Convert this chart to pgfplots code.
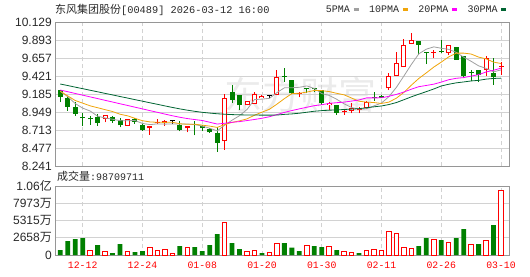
\documentclass[border=0pt]{standalone}
\usepackage{fontspec}
\setmainfont{Liberation Sans}
\newfontfamily\cjk{Noto Sans CJK SC}
\newfontfamily\mono{Liberation Mono}
\usepackage{pgfplots}
\usepackage{pgfplotstable}
\pgfplotsset{compat=1.18}
\definecolor{cred}{RGB}{255,0,0}
\definecolor{cgreen}{RGB}{0,128,0}
\definecolor{cma5}{RGB}{160,160,160}
\definecolor{cma10}{RGB}{240,165,10}
\definecolor{cma20}{RGB}{255,0,255}
\definecolor{cma30}{RGB}{0,100,50}
\definecolor{gridc}{RGB}{210,210,210}
\definecolor{framec}{RGB}{150,150,150}
\definecolor{txt}{RGB}{40,40,40}

% candles: index open high low close
\pgfplotstableread{
i o h l c
6 8.862 8.905 8.814 8.905
9 8.770 8.853 8.770 8.853
12 8.735 8.761 8.652 8.761
13 8.801 8.853 8.792 8.822
14 8.809 8.844 8.770 8.836
17 8.735 8.761 8.682 8.761
22 8.564 9.185 8.455 9.133
25 9.036 9.089 9.036 9.089
26 9.060 9.211 9.060 9.190
27 9.129 9.176 9.129 9.163
29 9.172 9.500 9.172 9.412
32 9.180 9.207 9.142 9.190
36 9.041 9.080 8.975 9.071
38 8.945 8.984 8.910 8.955
39 8.960 9.063 8.932 8.997
40 8.970 9.010 8.930 8.978
41 8.997 9.090 8.990 9.084
44 9.259 9.456 9.237 9.421
45 9.427 9.739 9.427 9.587
46 9.539 9.906 9.539 9.827
47 9.840 9.984 9.840 9.893
50 9.729 9.765 9.657 9.735
52 9.722 9.823 9.696 9.823
57 9.499 9.689 9.421 9.657
59 9.539 9.611 9.434 9.548
}\redtab
\pgfplotstableread{
i o h l c
0 9.237 9.240 9.080 9.150
1 9.133 9.141 8.967 9.019
2 9.015 9.080 8.901 8.923
3 8.879 8.932 8.770 8.866
4 8.862 8.897 8.783 8.853
5 8.879 8.923 8.770 8.809
7 8.884 8.901 8.809 8.836
8 8.840 8.871 8.748 8.774
10 8.853 8.871 8.792 8.818
11 8.783 8.792 8.704 8.713
16 8.783 8.827 8.696 8.713
18 8.792 8.827 8.643 8.783
19 8.761 8.783 8.696 8.739
20 8.726 8.739 8.674 8.682
21 8.674 8.748 8.425 8.543
23 9.211 9.299 9.067 9.111
24 9.176 9.176 8.980 9.036
30 9.421 9.522 9.346 9.404
31 9.369 9.369 9.185 9.194
33 9.265 9.268 9.194 9.255
34 9.255 9.260 9.207 9.245
35 9.237 9.237 9.041 9.070
37 9.041 9.041 8.910 8.940
42 9.145 9.215 9.097 9.135
43 9.163 9.170 9.130 9.137
48 9.883 9.883 9.696 9.831
49 9.735 9.735 9.578 9.729
51 9.748 9.893 9.722 9.735
53 9.801 9.801 9.631 9.631
54 9.683 9.683 9.394 9.417
55 9.473 9.499 9.349 9.464
56 9.499 9.499 9.342 9.434
58 9.460 9.663 9.309 9.404
}\greentab
\pgfplotstableread{
i o h l c
15 8.827 8.844 8.792 8.827
28 9.163 9.163 9.129 9.163
}\dojitab

% moving averages
\pgfplotstableread{
i m5 m10 m20 m30
0 9.220 9.220 9.237 9.316
1 9.150 9.160 9.215 9.296
2 9.060 9.100 9.192 9.275
3 9.000 9.065 9.170 9.255
4 8.962 9.030 9.147 9.234
5 8.894 9.005 9.125 9.214
6 8.871 8.980 9.102 9.193
7 8.854 8.955 9.080 9.173
8 8.835 8.920 9.057 9.152
9 8.835 8.899 9.035 9.132
10 8.837 8.866 9.012 9.111
11 8.799 8.835 8.990 9.091
12 8.784 8.819 8.967 9.070
13 8.793 8.814 8.945 9.050
14 8.790 8.813 8.922 9.029
15 8.792 8.815 8.900 9.009
16 8.792 8.795 8.880 8.990
17 8.792 8.788 8.863 8.973
18 8.784 8.789 8.850 8.958
19 8.765 8.777 8.838 8.945
20 8.736 8.764 8.815 8.935
21 8.702 8.747 8.791 8.926
22 8.776 8.784 8.801 8.920
23 8.842 8.813 8.814 8.915
24 8.901 8.833 8.823 8.912
25 8.982 8.859 8.837 8.910
26 9.112 8.907 8.851 8.909
27 9.118 8.947 8.867 8.908
28 9.128 8.985 8.887 8.908
29 9.203 9.052 8.915 8.909
30 9.266 9.124 8.944 8.918
31 9.267 9.190 8.968 8.924
32 9.273 9.195 8.990 8.933
33 9.291 9.210 9.011 8.946
34 9.258 9.231 9.032 8.959
35 9.191 9.229 9.044 8.967
36 9.166 9.217 9.062 8.973
37 9.116 9.194 9.071 8.976
38 9.056 9.174 9.079 8.982
39 9.007 9.132 9.092 8.987
40 8.988 9.090 9.107 8.993
41 8.991 9.079 9.134 9.005
42 9.030 9.073 9.134 9.017
43 9.066 9.061 9.135 9.028
44 9.151 9.079 9.155 9.047
45 9.273 9.131 9.180 9.073
46 9.421 9.206 9.211 9.110
47 9.573 9.301 9.248 9.148
48 9.712 9.389 9.281 9.183
49 9.773 9.462 9.297 9.216
50 9.803 9.538 9.314 9.251
51 9.785 9.603 9.341 9.290
52 9.771 9.672 9.372 9.313
53 9.731 9.721 9.391 9.331
54 9.668 9.721 9.400 9.343
55 9.614 9.709 9.420 9.356
56 9.554 9.669 9.438 9.364
57 9.521 9.646 9.474 9.380
58 9.475 9.603 9.496 9.389
59 9.501 9.585 9.524 9.393
}\matab

% volume in 10^4 shares
\pgfplotstableread{
i v
4 770
6 565
9 565
12 1181
13 770
14 924
15 308
17 1233
22 5033
25 565
26 719
28 462
29 1798
33 1489
36 1335
38 565
39 411
41 719
42 873
43 770
44 3698
45 3338
46 1181
47 1079
50 2414
52 2003
55 1644
57 2311
59 9871
}\redvol
\pgfplotstableread{
i v
0 770
1 2157
2 2465
3 2619
5 1541
7 308
8 1695
10 462
11 616
16 1387
18 1233
19 616
20 1541
21 3236
23 1849
24 924
27 308
30 1849
31 1130
32 616
34 1387
35 1233
37 770
40 308
48 1387
49 2619
51 2311
53 2619
54 4006
56 1695
58 4622
}\greenvol

\pgfplotsset{
  kbase/.style={
    scale only axis, width=453.5pt,
    xmin=-0.64, xmax=60.07,
    xtick={3,11,19,27,35,43,51,59},
    xmajorgrids, ymajorgrids,
    x grid style={gridc, line width=0.8pt, dash pattern=on 4pt off 3pt},
    y grid style={gridc, line width=0.8pt},
    major tick length=0pt,
    axis line style={framec, line width=0.9pt},
    yticklabel style={anchor=east, inner sep=0pt, xshift=-3.5pt, text=txt, font=\fontsize{12}{12}\selectfont},
  },
  wick/.style={draw=none, forget plot, error bars/.cd, y dir=plus, y explicit, error mark=none,
    error bar style={draw=#1, line width=1pt}},
  body/.style={draw=none, forget plot, error bars/.cd, y dir=plus, y explicit, error mark=none,
    error bar style={draw=#1, line width=5pt}},
}

\begin{document}
\begin{tikzpicture}
\useasboundingbox (0pt,0pt) rectangle (530pt,-276pt);
\node[text=black!8, font=\cjk\fontsize{38}{38}\selectfont, inner sep=0pt] at (300pt,-95pt) {东方财富};

\begin{axis}[kbase,
  at={(55.5pt,-22pt)}, anchor=north west, height=144pt,
  ymin=8.241, ymax=10.129,
  ytick={8.241,8.477,8.713,8.949,9.185,9.421,9.657,9.893,10.129},
  yticklabels={8.241,8.477,8.713,8.949,9.185,9.421,9.657,9.893,10.129},
  xticklabels={,,,,,,,},
  legend columns=4,
  legend plot pos=right,
  legend image code/.code={\draw[line width=2.2pt] (0pt,0pt) -- (5pt,0pt);},
  legend style={at={(axis description cs:0.596,1.087)}, anchor=west, draw=none, fill=none,
    inner sep=0pt, text=txt, font=\mono\fontsize{10}{10}\selectfont, nodes={inner sep=0pt},
    /tikz/every odd column/.append style={column sep=2.5pt},
    /tikz/every even column/.append style={column sep=9.5pt}},
]
% wicks
\addplot[wick=cred] table[x=i, y=l, y error plus expr=\thisrow{h}-\thisrow{l}] \redtab;
\addplot[wick=cgreen] table[x=i, y=l, y error plus expr=\thisrow{h}-\thisrow{l}] \greentab;
\addplot[wick=black] table[x=i, y=l, y error plus expr=\thisrow{h}-\thisrow{l}] \dojitab;
% bodies
\addplot[body=cgreen] table[x=i, y expr={min(\thisrow{o},\thisrow{c})}, y error plus expr={max(abs(\thisrow{o}-\thisrow{c}),0.013)}] \greentab;
\addplot[body=black] table[x=i, y expr={min(\thisrow{o},\thisrow{c})}, y error plus expr={max(abs(\thisrow{o}-\thisrow{c}),0.013)}] \dojitab;
\addplot[body=cred] table[x=i, y expr={min(\thisrow{o},\thisrow{c})}, y error plus expr={max(abs(\thisrow{o}-\thisrow{c}),0.013)}] \redtab;
\addplot[draw=none, forget plot, error bars/.cd, y dir=plus, y explicit, error mark=none,
    error bar style={draw=white, line width=3pt}]
  table[x=i, y expr={\thisrow{o}+0.0131}, y error plus expr={max(\thisrow{c}-\thisrow{o}-0.0262,0)}] \redtab;
% moving averages
\addplot[cma5, line width=0.8pt] table[x=i, y=m5] \matab; \addlegendentry{5PMA}
\addplot[cma10, line width=0.8pt] table[x=i, y=m10] \matab; \addlegendentry{10PMA}
\addplot[cma20, line width=0.8pt] table[x=i, y=m20] \matab; \addlegendentry{20PMA}
\addplot[cma30, line width=0.8pt] table[x=i, y=m30] \matab; \addlegendentry{30PMA}
\end{axis}

\begin{axis}[kbase,
  at={(55.5pt,-186pt)}, anchor=north west, height=69pt,
  ymin=0, ymax=10631, scaled y ticks=false,
  ytick={0,2658,5315,7973,10631},
  yticklabels={0,{2658{\cjk 万}},{5315{\cjk 万}},{7973{\cjk 万}},{1.06{\cjk 亿}}},
  xticklabels={12-12,12-24,01-08,01-20,01-30,02-11,02-26,03-10},
  xticklabel style={anchor=north, inner sep=0pt, yshift=-6.5pt, text=cred, font=\mono\fontsize{9.8}{10}\selectfont},
]
\addplot[ybar, bar width=4.5pt, bar shift=0pt, draw=cred, line width=1pt, fill=white] table[x=i, y=v] \redvol;
\addplot[ybar, bar width=4.8pt, bar shift=0pt, draw=none, fill=cgreen] table[x=i, y=v] \greenvol;
\end{axis}

\node[anchor=west, inner sep=0pt, text=txt] at (55pt,-9.5pt) {{\cjk\fontsize{11}{11}\selectfont 东风集团股份}{\mono\fontsize{10.3}{10.3}\selectfont [00489] 2026-03-12 16:00}};
\node[anchor=west, inner sep=0pt, text=txt] at (57pt,-176pt) {{\cjk\fontsize{11}{11}\selectfont 成交量}{\mono\fontsize{10}{10}\selectfont :98709711}};
\end{tikzpicture}
\end{document}
